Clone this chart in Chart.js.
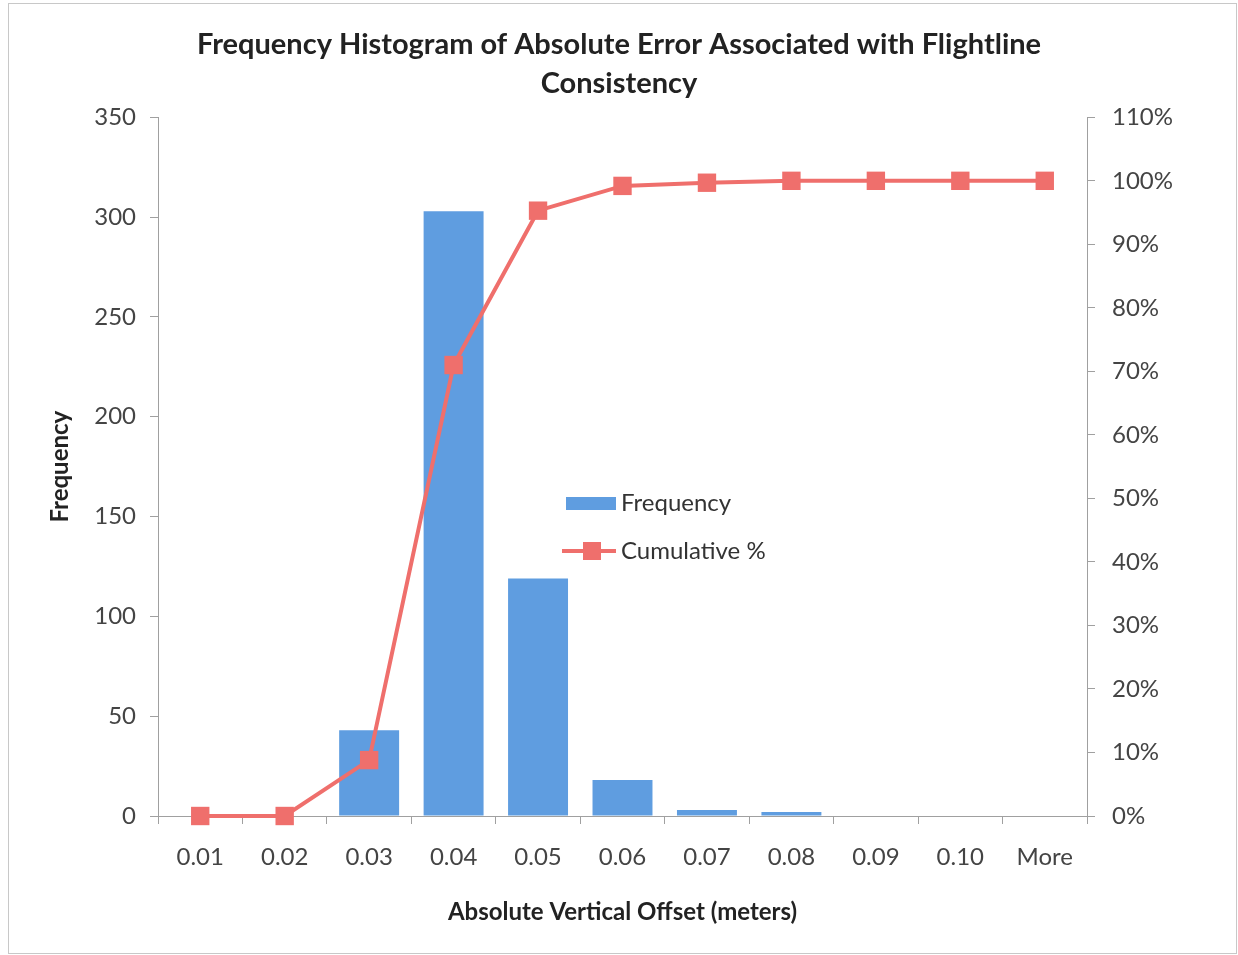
<!DOCTYPE html>
<html>
<head>
<meta charset="utf-8">
<script src="https://cdn.jsdelivr.net/npm/chart.js@4/dist/chart.umd.min.js"></script>
<style>
  html, body { margin: 0; padding: 0; background: #fff; }
  #wrap { position: relative; width: 1238px; height: 955px; }
  #frame { position: absolute; left: 8px; top: 3px; right: 1px; bottom: 1px; border: 1px solid #c8c8c8; pointer-events: none; }
  .legend { position: absolute; font-family: Lato, "Open Sans", sans-serif; font-size: 24px; color: #333; }
  .legend div { position: absolute; white-space: nowrap; }
</style>
</head>
<body>
<div id="wrap">
  <canvas id="histChart" width="1238" height="955"></canvas>
  <div id="frame"></div>
  <div class="legend" style="left:0;top:0;">
    <div style="left:566px;top:497px;width:50px;height:13px;background:#5f9de0;"></div>
    <div style="left:621px;top:487px;">Frequency</div>
    <div style="left:562px;top:549px;width:54px;height:4px;background:#ef6f6c;"></div>
    <div style="left:583px;top:542px;width:18px;height:18px;background:#ef6f6c;"></div>
    <div style="left:621px;top:535px;">Cumulative %</div>
  </div>
</div>
<script>
  // 구간 (m)
  const bins = ["0.01", "0.02", "0.03", "0.04", "0.05", "0.06", "0.07", "0.08", "0.09", "0.10", "More"];
  // 빈도
  const frequency = [0, 0, 43, 303, 119, 18, 3, 2, 0, 0, 0];
  // 누적 %
  const cumulativePct = [0, 0, 8.8, 71.0, 95.3, 99.2, 99.7, 100, 100, 100, 100];
  const leftTicks = [0, 50, 100, 150, 200, 250, 300, 350];

  const fontFamily = 'Lato, "Open Sans", sans-serif';
  const axisColor = '#a0a0a0';

  const ctx = document.getElementById("histChart").getContext("2d");
  new Chart(ctx, {
    data: {
      labels: bins,
      datasets: [
        {
          type: 'line',
          label: 'Cumulative %',
          data: cumulativePct,
          yAxisID: 'yRight',
          borderColor: '#ef6f6c',
          backgroundColor: '#ef6f6c',
          borderWidth: 4,
          pointStyle: 'rect',
          pointRadius: 13,
          pointBorderWidth: 0,
          tension: 0,
          clip: false,
          order: 1
        },
        {
          type: 'bar',
          label: 'Frequency',
          data: frequency,
          yAxisID: 'yLeft',
          backgroundColor: '#5f9de0',
          barPercentage: 0.71,
          categoryPercentage: 1.0,
          order: 2
        }
      ]
    },
    options: {
      responsive: false,
      animation: false,
      layout: { padding: { left: 0, right: 0, top: 0, bottom: 0 } },
      plugins: {
        legend: { display: false },
        tooltip: { enabled: false },
        title: {
          display: true,
          text: ["Frequency Histogram of Absolute Error Associated with Flightline", "Consistency"],
          color: '#222',
          font: { family: fontFamily, size: 29, weight: 'bold', lineHeight: 1.35 },
          padding: { top: 25, bottom: 14 }
        }
      },
      scales: {
        x: {
          grid: { drawOnChartArea: false, drawTicks: true, tickLength: 8, color: axisColor, offset: true },
          border: { display: true, color: axisColor },
          ticks: { color: '#444', font: { family: fontFamily, size: 24 }, padding: 19, maxRotation: 0 },
          title: {
            display: true,
            text: 'Absolute Vertical Offset (meters)',
            color: '#222',
            font: { family: fontFamily, size: 24, weight: 'bold' },
            padding: { top: 4, bottom: 28 }
          },
          afterFit: function(scale) { scale.height = 139; }
        },
        yLeft: {
          position: 'left',
          min: 0,
          max: 350,
          afterBuildTicks: function(scale) { scale.ticks = leftTicks.map(v => ({ value: v })); },
          grid: { drawOnChartArea: false, drawTicks: true, tickLength: 8, color: axisColor },
          border: { display: true, color: axisColor },
          ticks: { color: '#444', font: { family: fontFamily, size: 24 }, padding: 14 },
          title: {
            display: true,
            text: 'Frequency',
            color: '#222',
            font: { family: fontFamily, size: 24, weight: 'bold' },
            padding: { top: 46, bottom: 0 }
          },
          afterFit: function(scale) { scale.width = 158; }
        },
        yRight: {
          position: 'right',
          min: 0,
          max: 110,
          ticks: {
            stepSize: 10,
            color: '#444',
            font: { family: fontFamily, size: 24 },
            padding: 17,
            callback: function(v) { return v + '%'; }
          },
          grid: { drawOnChartArea: false, drawTicks: true, tickLength: 8, color: axisColor },
          border: { display: true, color: axisColor },
          afterFit: function(scale) { scale.width = 151; }
        }
      }
    }
  });
</script>
</body>
</html>
